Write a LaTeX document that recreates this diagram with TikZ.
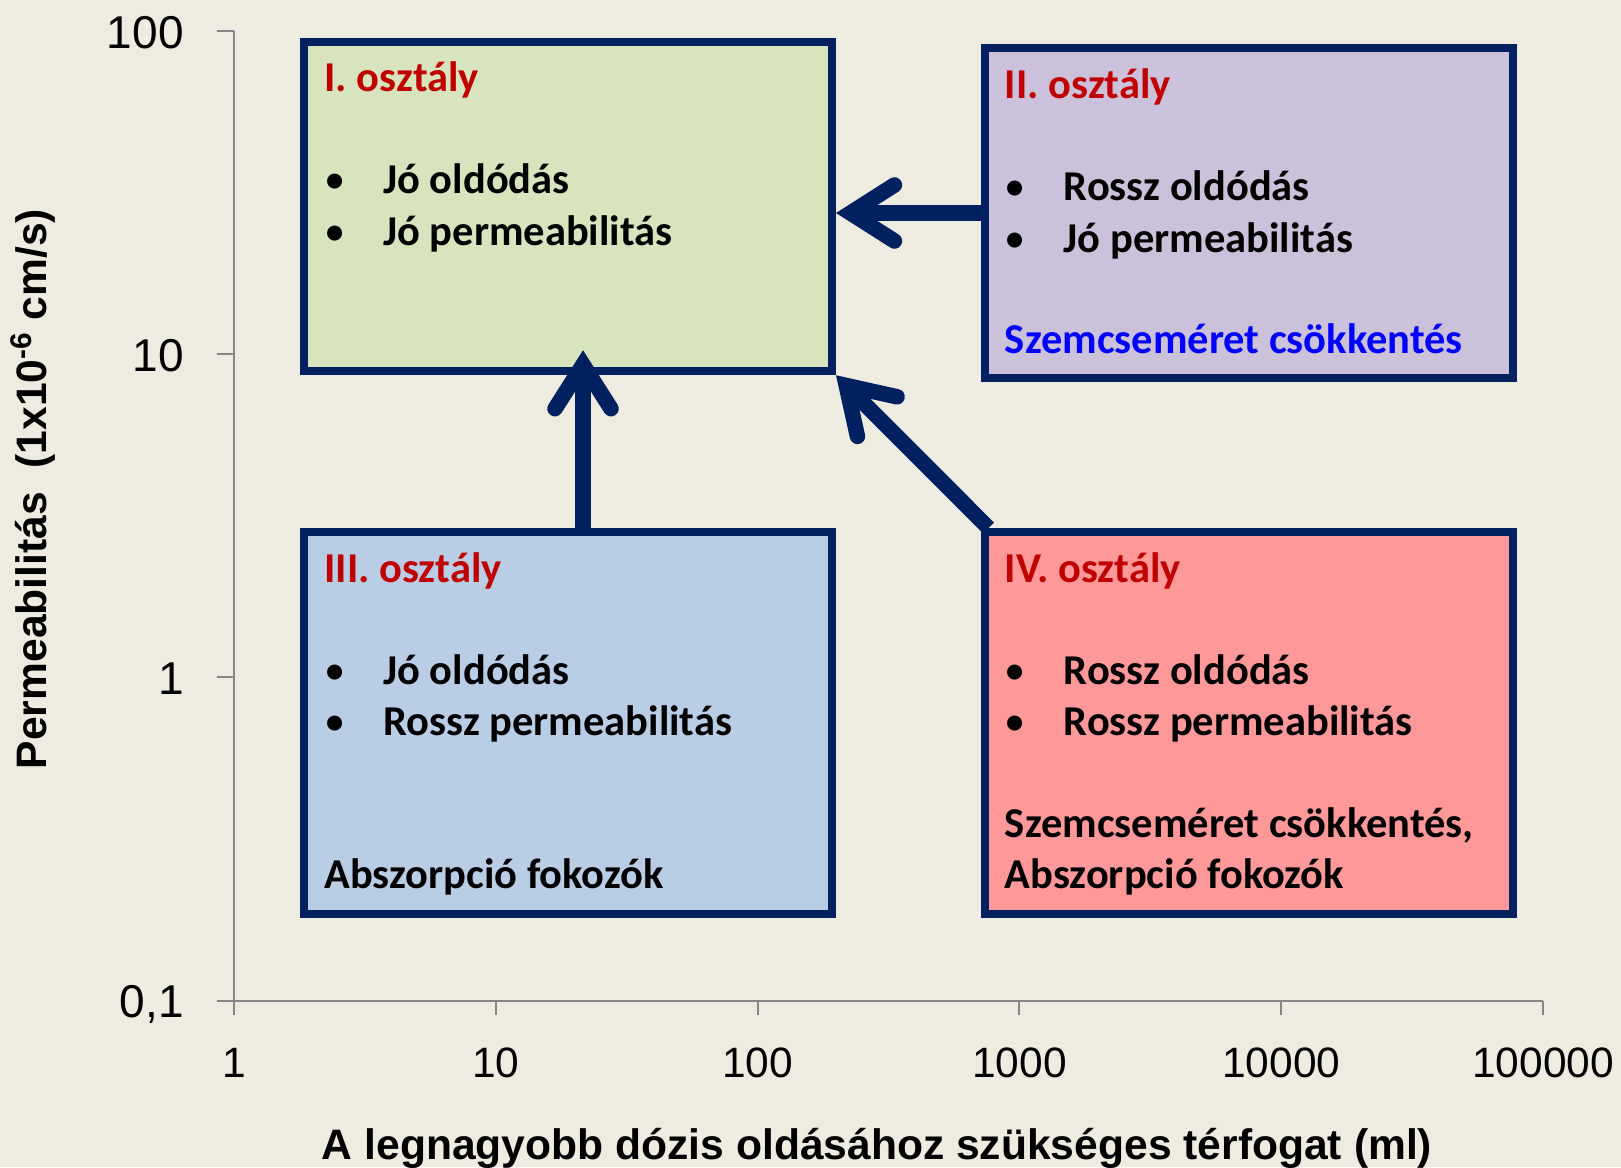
\documentclass[tikz,border=0pt]{standalone}
\usepackage{fontspec}
\setmainfont{Carlito}
\newfontfamily\arialfont{Liberation Sans}
\usetikzlibrary{arrows.meta,positioning,calc}
\definecolor{bgTan}{HTML}{EEECE1}
\definecolor{boxDraw}{HTML}{002060}
\definecolor{oneFill}{HTML}{D7E4BD}
\definecolor{twoFill}{HTML}{CCC1DA}
\definecolor{threeFill}{HTML}{B9CDE5}
\definecolor{fourFill}{HTML}{FF9999}
\definecolor{titleRed}{HTML}{C00000}
\definecolor{noteBlue}{HTML}{0000FF}
\definecolor{axisGray}{HTML}{868686}
\tikzset{
  box/.style     ={draw=boxDraw, line width=4pt, minimum width=264pt, inner sep=0pt},
  high/.style    ={box, minimum height=164.75pt},
  low/.style     ={box, minimum height=191pt},
  txt/.style     ={anchor=base west, inner sep=0pt, font=\bfseries\fontsize{21.25}{25}\selectfont},
  head/.style    ={txt, text=titleRed},
  arr/.style     ={draw=boxDraw, line width=7.75pt,
                   -{Straight Barb[length=22pt, width=28pt, line cap=round, line join=miter]}},
  axis/.style    ={draw=axisGray, line width=1pt},
  ynum/.style    ={anchor=base east, inner sep=0pt, font=\arialfont\fontsize{23}{27}\selectfont},
  xnum/.style    ={anchor=base, inner sep=0pt, font=\arialfont\fontsize{21.25}{25}\selectfont},
  axtitle/.style ={inner sep=0pt, font=\arialfont\bfseries\fontsize{21.3}{26}\selectfont},
}
\newcommand{\bitem}[1]{\makebox[29.5pt][l]{\mdseries\textbullet}#1}

\begin{document}
\begin{tikzpicture}[x=0.5pt, y=-0.5pt]
  \fill[bgTan] (0,0) rectangle (1621,1167);
  \useasboundingbox (0,0) rectangle (1621,1167);

  % axes and ticks
  \draw[axis] (234,31) -- (234,1015);
  \draw[axis] (217,1000.5) -- (1543,1000.5);
  \draw[axis] (217,31) -- (234,31);
  \draw[axis] (217,354.2) -- (234,354.2);
  \draw[axis] (217,677.3) -- (234,677.3);
  \draw[axis] (495.8,1000.5) -- (495.8,1015);
  \draw[axis] (757.6,1000.5) -- (757.6,1015);
  \draw[axis] (1019.4,1000.5) -- (1019.4,1015);
  \draw[axis] (1281.2,1000.5) -- (1281.2,1015);
  \draw[axis] (1543,1000.5) -- (1543,1015);

  \node[ynum] (y100) at (184,48)     {100};
  \node[ynum] (y10)  at (184,371.2)  {10};
  \node[ynum] (y1)   at (184,694.3)  {1};
  \node[ynum] (y01)  at (184,1017.5) {0,1};
  \node[xnum] (x1)   at (234,1077)    {1};
  \node[xnum] (x10)  at (495.8,1077)  {10};
  \node[xnum] (x100) at (757.6,1077)  {100};
  \node[xnum] (x1k)  at (1019.4,1077) {1000};
  \node[xnum] (x10k) at (1281.2,1077) {10000};
  \node[xnum] (x1m)  at (1543,1077)   {100000};

  \node[axtitle, rotate=90] (ytitle) at (33,489)
        {Permeabilitás\ \ (1x10\textsuperscript{-6} cm/s)};
  \node[axtitle, anchor=base] (xtitle) at (877,1159)
        {A legnagyobb dózis oldásához szükséges térfogat (ml)};

  % the four classes
  \node[high, fill=oneFill]   (c1) at (568,206.5)  {};
  \node[high, fill=twoFill]   (c2) at (1248.5,213) {};
  \node[low,  fill=threeFill] (c3) at (568,723)    {};
  \node[low,  fill=fourFill]  (c4) at (1248.5,723) {};

  \node[head] (h1) at ($(c1.north west)+(24,54)$)  {I. osztály};
  \node[txt]  (a1) at ($(c1.north west)+(24,156)$) {\bitem{Jó oldódás}};
  \node[txt]  (b1) at ($(c1.north west)+(24,208)$) {\bitem{Jó permeabilitás}};

  \node[head] (h2) at ($(c2.north west)+(24,54)$)  {II. osztály};
  \node[txt]  (a2) at ($(c2.north west)+(24,156)$) {\bitem{Rossz oldódás}};
  \node[txt]  (b2) at ($(c2.north west)+(24,208)$) {\bitem{Jó permeabilitás}};
  \node[txt, text=noteBlue] (n2) at ($(c2.north west)+(24,309)$) {Szemcseméret csökkentés};

  \node[head] (h3) at ($(c3.north west)+(24,54)$)  {III. osztály};
  \node[txt]  (a3) at ($(c3.north west)+(24,156)$) {\bitem{Jó oldódás}};
  \node[txt]  (b3) at ($(c3.north west)+(24,207)$) {\bitem{Rossz permeabilitás}};
  \node[txt]  (n3) at ($(c3.north west)+(24,360)$) {Abszorpció fokozók};

  \node[head] (h4) at ($(c4.north west)+(24,54)$)  {IV. osztály};
  \node[txt]  (a4) at ($(c4.north west)+(24,156)$) {\bitem{Rossz oldódás}};
  \node[txt]  (b4) at ($(c4.north west)+(24,207)$) {\bitem{Rossz permeabilitás}};
  \node[txt]  (n4) at ($(c4.north west)+(24,309)$) {Szemcseméret csökkentés,};
  \node[txt]  (m4) at ($(c4.north west)+(24,360)$) {Abszorpció fokozók};

  % moves between classes
  \draw[arr] (c2.west) -- (c2.west -| c1.east);
  \draw[arr] ([xshift=7.5pt]c3.north) -- ([xshift=7.5pt,yshift=12.5pt]c1.south);
  \draw[arr] ([xshift=4pt]c4.north west) -- (c1.south east);
\end{tikzpicture}
\end{document}
